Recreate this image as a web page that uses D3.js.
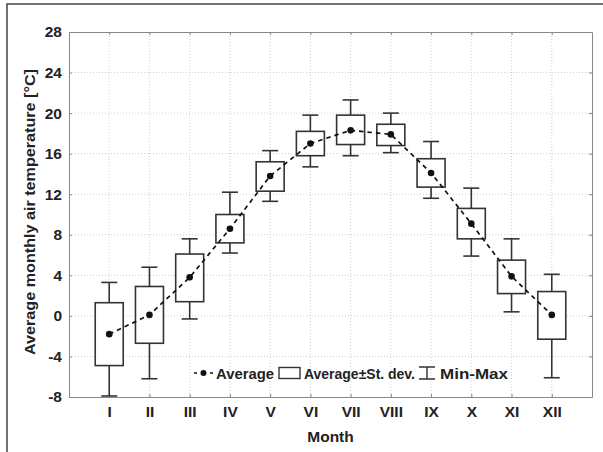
<!DOCTYPE html>
<html>
<head>
<meta charset="utf-8">
<script src="https://cdn.jsdelivr.net/npm/d3@7"></script>
<style>
  body { margin: 0; background: #fff; }
  svg { display: block; font-family: "Liberation Sans", Arial, sans-serif; }
</style>
</head>
<body>
<svg id="chart" width="603" height="452"></svg>
<script>
// monthly air temperature stats
const months  = ["I","II","III","IV","V","VI","VII","VIII","IX","X","XI","XII"];
const avg     = [-1.8, 0.1, 3.8, 8.6, 13.8, 17.0, 18.3, 17.9, 14.1, 9.1, 3.9, 0.1];
const sdLow   = [-4.9, -2.7, 1.4, 7.2, 12.3, 15.8, 16.9, 16.8, 12.7, 7.6, 2.2, -2.3];
const sdHigh  = [1.3, 2.9, 6.1, 10.0, 15.2, 18.2, 19.8, 18.9, 15.5, 10.6, 5.5, 2.4];
const minT    = [-7.9, -6.2, -0.3, 6.2, 11.3, 14.7, 15.8, 16.1, 11.6, 5.9, 0.4, -6.1];
const maxT    = [3.3, 4.8, 7.6, 12.2, 16.3, 19.8, 21.3, 20.0, 17.2, 12.6, 7.6, 4.1];
const yTicks  = [-8, -4, 0, 4, 8, 12, 16, 20, 24, 28];

const width = 603, height = 452;
const margin = {top: 32, right: 11, bottom: 55, left: 69};
const ink = "#222";

const data = months.map((m, i) => ({
  month: m, pos: i + 1, avg: avg[i], lo: sdLow[i], hi: sdHigh[i], min: minT[i], max: maxT[i]
}));

const x = d3.scaleLinear()
  .domain([0, months.length + 1])
  .range([margin.left, width - margin.right]);

const y = d3.scaleLinear()
  .domain([-8, 28])
  .range([height - margin.bottom, margin.top]);

const svg = d3.select("#chart");

// outer frame (only top and left edges show)
svg.append("path")
  .attr("d", `M7,${height} V4 H${width}`)
  .attr("fill", "none")
  .attr("stroke", "#444")
  .attr("stroke-width", 1.5);

// grid
const grid = svg.append("g")
  .attr("stroke", "#cfcfcf")
  .attr("stroke-width", 1)
  .attr("stroke-dasharray", "1,2");
grid.selectAll("line.h")
  .data(yTicks.slice(1, -1))
  .join("line")
    .attr("x1", x.range()[0]).attr("x2", x.range()[1])
    .attr("y1", d => y(d)).attr("y2", d => y(d));
grid.selectAll("line.v")
  .data(data)
  .join("line")
    .attr("x1", d => x(d.pos)).attr("x2", d => x(d.pos))
    .attr("y1", y.range()[0]).attr("y2", y.range()[1]);

// axes: inward ticks all round
const styleAxis = g => g
  .call(g => g.select(".domain").attr("stroke", "#888"))
  .call(g => g.selectAll(".tick line").attr("stroke", "#888"))
  .call(g => g.selectAll(".tick text")
    .attr("fill", ink)
    .attr("font-size", 15.5)
    .attr("font-weight", "bold"));

svg.append("g")
  .attr("transform", `translate(${margin.left},0)`)
  .call(d3.axisLeft(y).tickValues(yTicks).tickFormat(d => String(d))
    .tickSize(-3).tickSizeOuter(0).tickPadding(7))
  .call(styleAxis);

svg.append("g")
  .attr("transform", `translate(${width - margin.right},0)`)
  .call(d3.axisRight(y).tickValues(yTicks).tickSize(-3).tickSizeOuter(0).tickFormat(""))
  .call(styleAxis);

svg.append("g")
  .attr("transform", `translate(0,${height - margin.bottom})`)
  .call(d3.axisBottom(x).tickValues(data.map(d => d.pos))
    .tickFormat((d, i) => months[i]).tickSize(-3).tickSizeOuter(0).tickPadding(9))
  .call(styleAxis);

svg.append("g")
  .attr("transform", `translate(0,${margin.top})`)
  .call(d3.axisTop(x).tickValues(data.map(d => d.pos)).tickSize(-3).tickSizeOuter(0).tickFormat(""))
  .call(styleAxis);

// whiskers + boxes
const boxW = 28, capW = 16;
const stroke = "#333";
const marks = svg.append("g")
  .attr("stroke", stroke)
  .attr("stroke-width", 1.6)
  .selectAll("g")
  .data(data)
  .join("g");

marks.append("line")
  .attr("x1", d => x(d.pos)).attr("x2", d => x(d.pos))
  .attr("y1", d => y(d.max)).attr("y2", d => y(d.hi));
marks.append("line")
  .attr("x1", d => x(d.pos)).attr("x2", d => x(d.pos))
  .attr("y1", d => y(d.lo)).attr("y2", d => y(d.min));
marks.append("line")
  .attr("x1", d => x(d.pos) - capW / 2).attr("x2", d => x(d.pos) + capW / 2)
  .attr("y1", d => y(d.max)).attr("y2", d => y(d.max));
marks.append("line")
  .attr("x1", d => x(d.pos) - capW / 2).attr("x2", d => x(d.pos) + capW / 2)
  .attr("y1", d => y(d.min)).attr("y2", d => y(d.min));
marks.append("rect")
  .attr("x", d => x(d.pos) - boxW / 2)
  .attr("y", d => y(d.hi))
  .attr("width", boxW)
  .attr("height", d => y(d.lo) - y(d.hi))
  .attr("fill", "#fff");

// average line
svg.append("path")
  .datum(data)
  .attr("fill", "none")
  .attr("stroke", "#111")
  .attr("stroke-width", 1.7)
  .attr("stroke-dasharray", "4.5,4")
  .attr("d", d3.line().x(d => x(d.pos)).y(d => y(d.avg)));

svg.append("g")
  .selectAll("circle")
  .data(data)
  .join("circle")
    .attr("cx", d => x(d.pos))
    .attr("cy", d => y(d.avg))
    .attr("r", 3.3)
    .attr("fill", "#111");

// axis titles
svg.append("text")
  .attr("x", (margin.left + width - margin.right) / 2)
  .attr("y", 442)
  .attr("text-anchor", "middle")
  .attr("font-size", 15.5)
  .attr("font-weight", "bold")
  .attr("fill", ink)
  .text("Month");

svg.append("text")
  .attr("transform", "translate(35,212) rotate(-90)")
  .attr("text-anchor", "middle")
  .attr("font-size", 15.5)
  .attr("font-weight", "bold")
  .attr("fill", ink)
  .attr("textLength", 286)
  .attr("lengthAdjust", "spacingAndGlyphs")
  .text("Average monthly air temperature [°C]");

// legend
const ly = 373;
const legend = svg.append("g")
  .attr("font-size", 15)
  .attr("font-weight", "bold")
  .attr("fill", ink);

const legendText = (x0, len, s) => legend.append("text")
  .attr("x", x0).attr("y", ly + 5.5)
  .attr("textLength", len)
  .attr("lengthAdjust", "spacingAndGlyphs")
  .text(s);

legend.append("line")
  .attr("x1", 194).attr("x2", 213).attr("y1", ly).attr("y2", ly)
  .attr("stroke", "#111").attr("stroke-width", 1.6).attr("stroke-dasharray", "3,5");
legend.append("circle").attr("cx", 203.5).attr("cy", ly).attr("r", 3).attr("fill", "#111");
legendText(216, 58, "Average");

legend.append("rect")
  .attr("x", 279).attr("y", ly - 5.5).attr("width", 21).attr("height", 11)
  .attr("fill", "#fff").attr("stroke", stroke).attr("stroke-width", 1.4);
legendText(304, 111, "Average±St. dev.");

const wx = 427;
legend.append("path")
  .attr("d", `M${wx - 8},${ly - 6} H${wx + 8} M${wx},${ly - 6} V${ly + 6} M${wx - 8},${ly + 6} H${wx + 8}`)
  .attr("fill", "none").attr("stroke", stroke).attr("stroke-width", 1.4);
legendText(440, 68, "Min-Max");
</script>
</body>
</html>
